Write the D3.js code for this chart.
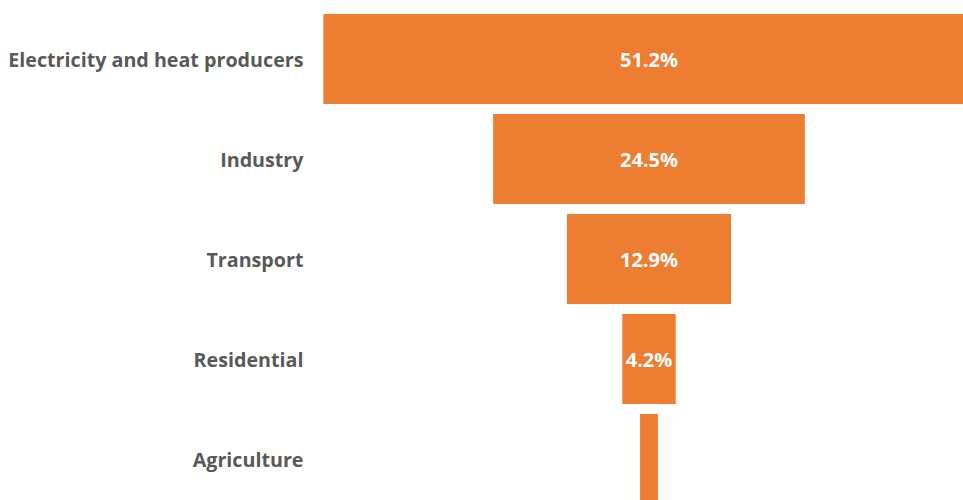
<!DOCTYPE html>
<html>
<head>
<meta charset="utf-8">
<script src="https://cdn.jsdelivr.net/npm/d3@7"></script>
<style>
  html, body { margin: 0; padding: 0; background: #fff; overflow: hidden; }
  svg { display: block; }
</style>
</head>
<body>
<svg id="chart"></svg>
<script>
// 数据
const sectors = ['Electricity and heat producers', 'Industry', 'Transport', 'Residential', 'Agriculture']
const shares = [51.2, 24.5, 12.9, 4.2, 1.4]

const width = 963
const height = 500
const centerX = 649

const svg = d3.select('#chart').attr('width', width).attr('height', height)

const xScale = d3.scaleLinear().domain([0, 100]).range([0, 1272])
const yScale = d3.scaleBand().domain(sectors).range([9, 509]).paddingInner(0.1).paddingOuter(0.05)

const rows = svg.selectAll('.row')
    .data(sectors.map((s, i) => ({ name: s, value: shares[i] })))
    .join('g')
    .attr('class', 'row')

// 漏斗条
rows.append('rect')
    .attr('x', d => centerX - xScale(d.value) / 2)
    .attr('y', d => yScale(d.name))
    .attr('width', d => xScale(d.value))
    .attr('height', yScale.bandwidth())
    .attr('fill', '#ED7D31')

// 类别标签
rows.append('text')
    .attr('x', 303.5)
    .attr('y', d => yScale(d.name) + yScale.bandwidth() / 2 + 1)
    .attr('dy', '0.35em')
    .text(d => d.name)
    .style('fill', '#595959')
    .style('font-family', '"Open Sans", sans-serif')
    .style('font-weight', 'bold')
    .style('font-size', '19.7px')
    .style('text-anchor', 'end')

// 数值标签（最小的一条不显示）
rows.filter(d => d.value >= 4)
    .append('text')
    .attr('x', centerX)
    .attr('y', d => yScale(d.name) + yScale.bandwidth() / 2 + 1)
    .attr('dy', '0.35em')
    .text(d => `${d.value}%`)
    .style('fill', '#fff')
    .style('font-family', '"Open Sans", sans-serif')
    .style('font-weight', 'bold')
    .style('font-size', '20px')
    .style('text-anchor', 'middle')
</script>
</body>
</html>
